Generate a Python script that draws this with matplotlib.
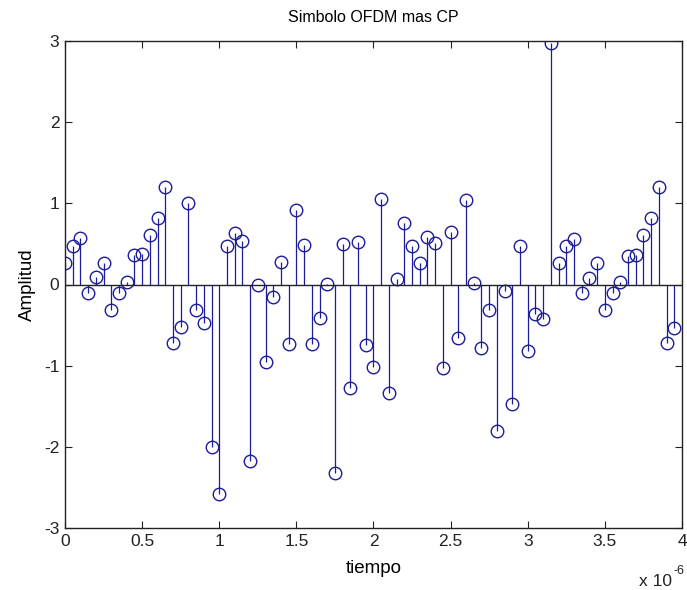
import numpy as np
import matplotlib
matplotlib.use("Agg")
import matplotlib.pyplot as plt
from matplotlib.ticker import FuncFormatter

# OFDM symbol samples with cyclic prefix, sample spacing 0.05 us
dt = 0.05e-6
amplitud = [
    0.27, 0.48, 0.57, -0.10, 0.09, 0.27, -0.32, -0.10, 0.03, 0.36,
    0.37, 0.61, 0.82, 1.20, -0.72, -0.52, 1.00, -0.32, -0.47, -2.00,
    -2.58, 0.47, 0.63, 0.54, -2.18, 0.00, -0.95, -0.16, 0.28, -0.73,
    0.92, 0.49, -0.73, -0.41, 0.01, -2.32, 0.50, -1.27, 0.52, -0.74,
    -1.02, 1.05, -1.34, 0.07, 0.76, 0.47, 0.26, 0.58, 0.51, -1.03,
    0.65, -0.66, 1.04, 0.02, -0.78, -0.32, -1.80, -0.08, -1.47, 0.47,
    -0.82, -0.36, -0.42, 2.97, 0.26, 0.47, 0.56, -0.11, 0.08, 0.26,
    -0.31, -0.10, 0.03, 0.35, 0.36, 0.61, 0.82, 1.20, -0.72, -0.53,
]
tiempo = np.arange(len(amplitud)) * dt

plt.rcParams['font.family'] = ['Liberation Sans', 'DejaVu Sans']
plt.rcParams['font.size'] = 11
plt.rcParams['axes.unicode_minus'] = False

fig = plt.figure(figsize=(6.87, 5.90), dpi=100)
ax = fig.add_axes([65 / 687, 1 - 528 / 590, 617 / 687, 487 / 590])

azul = '#1c1c9a'
markers, stems, base = ax.stem(tiempo, amplitud, basefmt='k-')
plt.setp(stems, color=azul, linewidth=0.9)
plt.setp(markers, marker='o', markerfacecolor='none', markeredgecolor=azul,
         markersize=9, markeredgewidth=1.0)
plt.setp(base, color='#222222', linewidth=1.0)
base.set_xdata([0, 4e-6])

ax.set_xlim(0, 4e-6)
ax.set_ylim(-3, 3)
ax.set_xticks(np.arange(0, 4.01, 0.5) * 1e-6)
ax.set_yticks(np.arange(-3, 4, 1))
ax.xaxis.set_major_formatter(FuncFormatter(lambda v, p: '%g' % round(v * 1e6, 3)))
ax.tick_params(direction='in', top=True, right=True, length=5, width=0.8,
               labelsize=12.5, pad=4, colors='#222222')
for s in ax.spines.values():
    s.set_linewidth(1.0)
    s.set_color('#222222')

ax.set_title('Simbolo OFDM mas CP', fontsize=11.5, pad=14)
ax.set_xlabel('tiempo', fontsize=13.5, labelpad=8)
ax.set_ylabel('Amplitud', fontsize=13.5, labelpad=6)

# exponent label for the time axis
fig.text(672 / 687, 1 - 586 / 590, 'x 10', fontsize=12.5,
         ha='right', va='baseline', color='#222222')
fig.text(673 / 687, 1 - 574 / 590, '-6', fontsize=9,
         ha='left', va='baseline', color='#222222')

fig.savefig('out.png', dpi=100, facecolor='white')
